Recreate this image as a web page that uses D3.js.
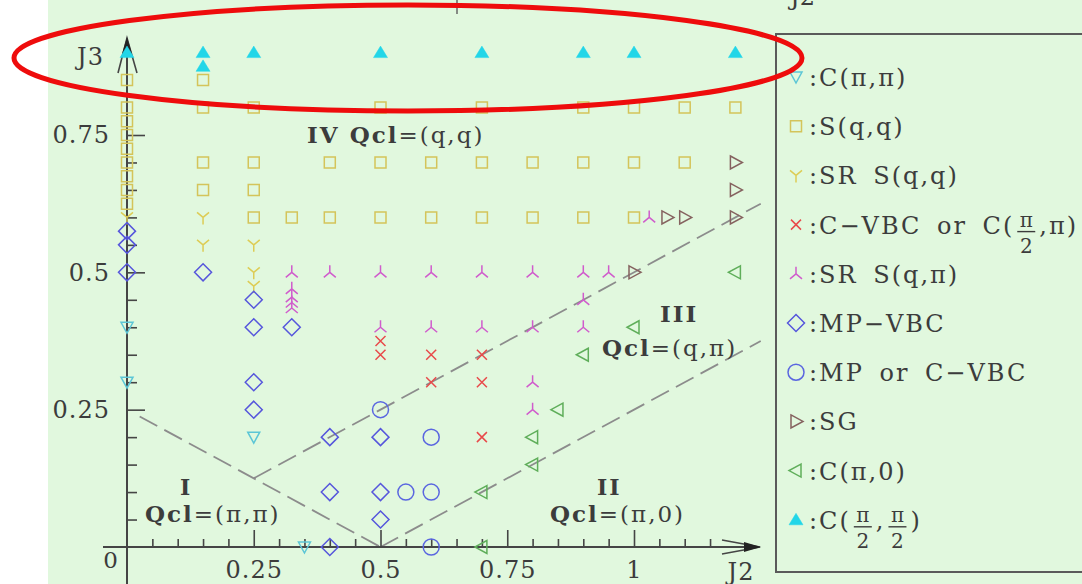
<!DOCTYPE html>
<html>
<head>
<meta charset="utf-8">
<script src="https://cdn.jsdelivr.net/npm/d3@7"></script>
<style>
body{margin:0;background:#fff;}
svg{display:block;}
text{font-family:"DejaVu Serif",serif;fill:#3c3c3c;}
</style>
</head>
<body>
<svg></svg>
<script>
// every point is [J2, J3]
var cPiPi = [[0,0.4],[0,0.3],[0.25,0.2],[0.35,0]];
var sQQ = [[0,0.85],[0,0.8],[0,0.775],[0,0.75],[0,0.725],[0,0.7],[0,0.675],[0,0.65],[0,0.625],
    [0.15,0.85],[0.15,0.8],[0.15,0.7],[0.15,0.65],
    [0.25,0.8],[0.25,0.7],[0.25,0.65],[0.25,0.6],
    [0.5,0.8],[0.7,0.8],[0.9,0.8],[1,0.8],[1.1,0.8],[1.2,0.8],
    [0.4,0.7],[0.5,0.7],[0.6,0.7],[0.7,0.7],[0.8,0.7],[0.9,0.7],[1,0.7],[1.1,0.7],
    [0.325,0.6],[0.4,0.6],[0.5,0.6],[0.6,0.6],[0.7,0.6],[0.8,0.6],[0.9,0.6],[1,0.6]];
var srSQQ = [[0,0.6],[0.15,0.6],[0.15,0.55],[0.25,0.55],[0.25,0.5],[0.25,0.475]];
var cVbc = [[0.5,0.375],[0.5,0.35],[0.6,0.35],[0.7,0.35],[0.6,0.3],[0.7,0.3],[0.7,0.2]];
var srSQPi = [[0.325,0.5],[0.4,0.5],[0.5,0.5],[0.6,0.5],[0.7,0.5],[0.8,0.5],[0.9,0.5],[0.95,0.5],[1.03,0.6],
    [0.325,0.47],[0.325,0.455],[0.325,0.445],[0.325,0.435],
    [0.5,0.4],[0.6,0.4],[0.7,0.4],[0.8,0.4],[0.9,0.4],[0.9,0.45],[0.8,0.3],[0.8,0.25]];
var mpVbc = [[0,0.575],[0,0.55],[0,0.5],[0.15,0.5],[0.25,0.45],[0.25,0.4],[0.325,0.4],[0.25,0.3],[0.25,0.25],
    [0.4,0.2],[0.5,0.2],[0.4,0.1],[0.5,0.1],[0.5,0.05],[0.4,0]];
var mpOrCvbc = [[0.5,0.25],[0.6,0.2],[0.55,0.1],[0.6,0.1],[0.6,0]];
var sg = [[1.2,0.7],[1.2,0.65],[1.2,0.6],[1.065,0.6],[1.1,0.6],[1,0.5]];
var cPi0 = [[1.2,0.5],[1,0.4],[0.9,0.35],[0.85,0.25],[0.8,0.2],[0.8,0.15],[0.7,0.1],[0.7,0]];
var cHalf = [[0,0.9],[0.15,0.9],[0.15,0.875],[0.25,0.9],[0.5,0.9],[0.7,0.9],[0.9,0.9],[1,0.9],[1.2,0.9]];

// dashed phase boundaries
var boundaries = [[[0.025,0.2375],[0.5,0]], [[0.25,0.125],[1.25,0.625]], [[0.5,0],[1.25,0.375]]];

var xMajor = [0.25,0.5,0.75,1];
var xMajorLabels = ["0.25","0.5","0.75","1"];
var xMinor = [0.05,0.1,0.15,0.2,0.3,0.35,0.4,0.45,0.55,0.6,0.65,0.7,0.8,0.85,0.9,0.95,1.05,1.1,1.15];
var yMajor = [0.25,0.5,0.75];
var yMajorLabels = ["0.25","0.5","0.75"];
var yMinor = [0.05,0.1,0.15,0.2,0.3,0.35,0.4,0.45,0.55,0.6,0.65,0.7];

var legendLabels = [
    [":C(π,π)"],
    [":S(q,q)"],
    [":SR S(q,q)"],
    [":C−VBC or C(", {frac:["π","2"]}, ",π)"],
    [":SR S(q,π)"],
    [":MP−VBC"],
    [":MP or C−VBC"],
    [":SG"],
    [":C(π,0)"],
    [":C(", {frac:["π","2"]}, ",", {frac:["π","2"]}, ")"]
];

var screen = {width:1082, height:584}

var svg = d3.select("svg")
    .attr("width", screen.width)
    .attr("height", screen.height)

svg.append("rect")
    .attr("x", 48).attr("y", 0)
    .attr("width", screen.width - 48).attr("height", screen.height)
    .attr("fill", "#e1f8de")

var xScale = d3.scaleLinear().domain([0,1]).range([127,634])
var yScale = d3.scaleLinear().domain([0,0.75]).range([547,135])

// marker shapes, drawn round 0,0
var shapes = {
    triDown: "M-6,-5L6,-5L0,6Z",
    square: "M-5.5,-5.5H5.5V5.5H-5.5Z",
    wye: "M0,0V7M0,0L-6,-5M0,0L6,-5",
    cross: "M-5,-5L5,5M-5,5L5,-5",
    wyeUp: "M0,0V-7M0,0L-6,5M0,0L6,5",
    diamond: "M0,-8.5L8.5,0L0,8.5L-8.5,0Z",
    circle: d3.arc()({innerRadius:0, outerRadius:8, startAngle:0, endAngle:2*Math.PI}),
    triRight: "M-5,-6.5L7,0L-5,6.5Z",
    triLeft: "M5,-6.5L-7,0L5,6.5Z",
    triUp: "M0,-6.5L7,5L-7,5Z"
}

var series = [
    {data:cPiPi, shape:"triDown", color:"#5cc6d6", fill:false},
    {data:sQQ, shape:"square", color:"#d4c45a", fill:false},
    {data:srSQQ, shape:"wye", color:"#ddcc55", fill:false},
    {data:cVbc, shape:"cross", color:"#e84a4a", fill:false},
    {data:srSQPi, shape:"wyeUp", color:"#d05ccc", fill:false},
    {data:mpVbc, shape:"diamond", color:"#5656dc", fill:false},
    {data:mpOrCvbc, shape:"circle", color:"#5a66e0", fill:false},
    {data:sg, shape:"triRight", color:"#85625f", fill:false},
    {data:cPi0, shape:"triLeft", color:"#5fae5a", fill:false},
    {data:cHalf, shape:"triUp", color:"#22d6e8", fill:true}
]

//dashed boundaries
var line = d3.line()
    .x(function(d){return xScale(d[0])})
    .y(function(d){return yScale(d[1])})

svg.append("g").attr("id","bounds")
    .selectAll("path")
    .data(boundaries)
    .enter()
    .append("path")
    .attr("d", line)
    .attr("fill","none")
    .attr("stroke","#8c8c8c")
    .attr("stroke-width",1.8)
    .attr("stroke-dasharray","20,8")

//axes
var axisColor = "#454545"
var drawAxis = function(axis, id, tr)
{
    var g = svg.append("g").attr("id", id).attr("transform", tr).call(axis)
    g.select(".domain").remove()
    g.selectAll("line").attr("stroke", axisColor).attr("stroke-width", 1.6)
    g.selectAll("text")
        .style("font-family", "DejaVu Serif")
        .style("font-size", "24px")
        .style("letter-spacing", "1px")
        .attr("fill", "#444")
    return g
}

drawAxis(d3.axisBottom(xScale).tickValues(xMinor).tickSize(-8).tickFormat(""),
    "xMinor", "translate(0,"+yScale(0)+")")
drawAxis(d3.axisBottom(xScale).tickValues(xMajor).tickSize(-17).tickPadding(14)
    .tickFormat(function(d,i){return xMajorLabels[i]}),
    "xMajor", "translate(0,"+yScale(0)+")")
drawAxis(d3.axisLeft(yScale).tickValues(yMinor).tickSize(-10).tickFormat(""),
    "yMinor", "translate("+xScale(0)+",0)")
drawAxis(d3.axisLeft(yScale).tickValues(yMajor).tickSize(-18).tickPadding(17)
    .tickFormat(function(d,i){return yMajorLabels[i]}),
    "yMajor", "translate("+xScale(0)+",0)")

var x0 = xScale(0), y0 = yScale(0)
var axes = svg.append("g").attr("stroke", axisColor).attr("stroke-width", 2).attr("fill","none")
axes.append("line").attr("x1", x0 - 24).attr("x2", 758).attr("y1", y0).attr("y2", y0)
axes.append("line").attr("x1", x0).attr("x2", x0).attr("y1", 38).attr("y2", screen.height)
axes.append("path").attr("d", "M722,540L760,"+y0+"L722,554").attr("stroke-width",1.6)
axes.append("path").attr("d", "M"+(x0-9)+",73L"+x0+",38L"+(x0+10)+",73").attr("stroke-width",1.6)
svg.append("path").attr("d", "M744,542L761,"+y0+"L744,552Z").attr("fill","#222")
svg.append("path").attr("d", "M"+(x0-5)+",54L"+x0+",37L"+(x0+5)+",54Z").attr("fill","#222")

svg.append("text").attr("x", 118).attr("y", 568).attr("text-anchor","end")
    .style("font-size","23px").attr("fill","#444").text("0")
svg.append("text").attr("x", 104).attr("y", 65).attr("text-anchor","end")
    .style("font-size","24px").style("letter-spacing","1px").attr("fill","#444").text("J3")
svg.append("text").attr("x", 741).attr("y", 580).attr("text-anchor","middle")
    .style("font-size","24px").style("letter-spacing","1px").attr("fill","#444").text("J2")

//markers
var markers = svg.append("g").attr("id","markers")
series.forEach(function(s)
{
    markers.append("g")
        .selectAll("path")
        .data(s.data)
        .enter()
        .append("path")
        .attr("d", shapes[s.shape])
        .attr("transform", function(d){return "translate("+xScale(d[0])+","+yScale(d[1])+")"})
        .attr("fill", s.fill ? s.color : "none")
        .attr("stroke", s.color)
        .attr("stroke-width", s.fill ? 0.5 : 1.5)
})

//phase labels
var labelStyle = function(t, size)
{
    return t.style("font-size", size+"px").style("letter-spacing","2px").attr("fill","#4e4e4e")
}
var qcl = function(x, y, rest)
{
    var t = labelStyle(svg.append("text").attr("x", x).attr("y", y), 23)
    t.append("tspan").attr("font-weight","bold").text("Qcl")
    t.append("tspan").text(rest)
    return t
}
var iv = labelStyle(svg.append("text").attr("x",307).attr("y",143), 23)
iv.append("tspan").attr("font-weight","bold").text("IV ")
iv.append("tspan").attr("font-weight","bold").text("Qcl")
iv.append("tspan").text("=(q,q)")
labelStyle(svg.append("text").attr("x",660).attr("y",322).attr("font-weight","bold"), 23).text("III")
qcl(602, 356, "=(q,π)")
labelStyle(svg.append("text").attr("x",597).attr("y",495).attr("font-weight","bold"), 22).text("II")
qcl(550, 522, "=(π,0)")
labelStyle(svg.append("text").attr("x",180).attr("y",495).attr("font-weight","bold"), 22).text("I")
qcl(145, 522, "=(π,π)")

//legend
svg.append("rect")
    .attr("x", 776).attr("y", 34)
    .attr("width", 330).attr("height", 538)
    .attr("fill", "none").attr("stroke", "#5a5a5a").attr("stroke-width", 2)

var legend = svg.append("g").attr("id","legend")
series.forEach(function(s, i)
{
    var rowY = 77 + i*49.2
    legend.append("path")
        .attr("d", shapes[s.shape])
        .attr("transform", "translate(796,"+rowY+")")
        .attr("fill", s.fill ? s.color : "none")
        .attr("stroke", s.color)
        .attr("stroke-width", s.fill ? 0.5 : 1.5)

    var curX = 809
    legendLabels[i].forEach(function(part)
    {
        if (typeof part === "string")
        {
            var t = legend.append("text")
                .attr("x", curX).attr("y", rowY + 9)
                .style("font-size","24px").style("letter-spacing","2px").style("word-spacing","6px")
                .text(part)
            curX += t.node().getComputedTextLength() + 2
        }
        else
        {
            var w = 20
            legend.append("text").attr("x", curX + w/2).attr("y", rowY + 2)
                .attr("text-anchor","middle").style("font-size","20px").text(part.frac[0])
            legend.append("line").attr("x1", curX + 1).attr("x2", curX + w - 1)
                .attr("y1", rowY + 7).attr("y2", rowY + 7)
                .attr("stroke","#3c3c3c").attr("stroke-width",1.4)
            legend.append("text").attr("x", curX + w/2).attr("y", rowY + 28)
                .attr("text-anchor","middle").style("font-size","20px").text(part.frac[1])
            curX += w + 3
        }
    })
})

//bits of the panel above
svg.append("line").attr("x1",457).attr("x2",457).attr("y1",0).attr("y2",14)
    .attr("stroke","#666").attr("stroke-width",1.5)
svg.append("text").attr("x",782).attr("y",5).style("font-size","24px").attr("fill","#777").text("-J2")

//red highlight ring
svg.append("ellipse")
    .attr("cx", 408).attr("cy", 58)
    .attr("rx", 394).attr("ry", 53)
    .attr("fill","none")
    .attr("stroke","#ee0c0c")
    .attr("stroke-width",5)
</script>
</body>
</html>
